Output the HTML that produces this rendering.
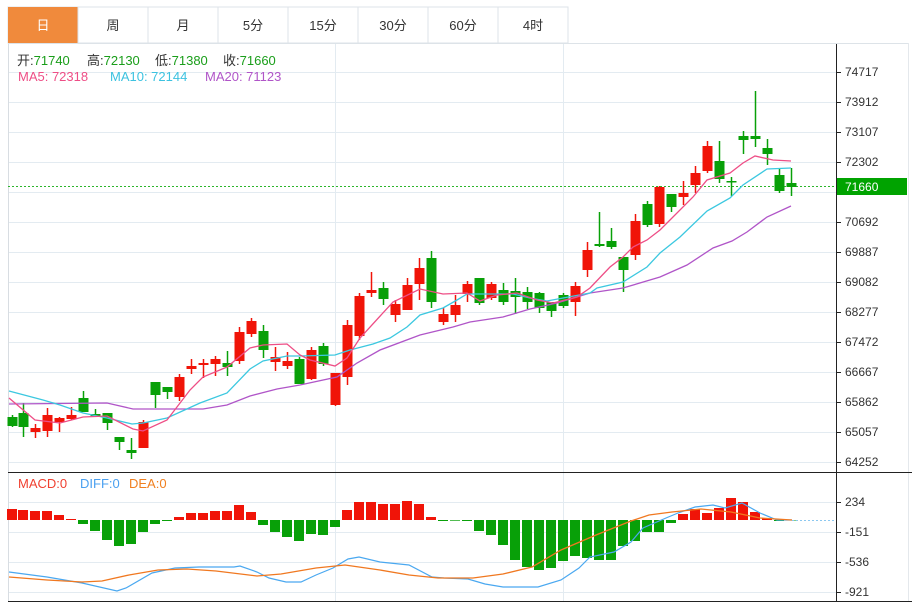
<!DOCTYPE html>
<html><head><meta charset="utf-8"><style>
html,body{margin:0;padding:0;background:#fff;width:912px;height:603px;overflow:hidden}
body{font-family:"Liberation Sans","Noto Sans CJK SC",sans-serif}
svg{position:absolute;left:0;top:0}
text{font-family:"Liberation Sans","Noto Sans CJK SC",sans-serif}
</style></head><body>
<svg id="s" width="912" height="603" xmlns="http://www.w3.org/2000/svg">
<rect x="0" y="0" width="912" height="603" fill="#fff"/>
<rect x="8" y="7" width="560" height="36" fill="#fff" stroke="#dde3e8"/>
<rect x="8" y="7" width="70" height="36" fill="#f08a3c"/>
<g stroke="#dde3e8"><line x1="148" y1="7" x2="148" y2="43"/><line x1="218" y1="7" x2="218" y2="43"/><line x1="288" y1="7" x2="288" y2="43"/><line x1="358" y1="7" x2="358" y2="43"/><line x1="428" y1="7" x2="428" y2="43"/><line x1="498" y1="7" x2="498" y2="43"/><line x1="78" y1="7" x2="78" y2="43"/></g>
<g font-size="13" text-anchor="middle" fill="#333">
<text x="43" y="30" fill="#fff">日</text><text x="113" y="30">周</text><text x="183" y="30">月</text><text x="253" y="30">5分</text><text x="323" y="30">15分</text><text x="393" y="30">30分</text><text x="463" y="30">60分</text><text x="533" y="30">4时</text>
</g>
<line x1="8.5" y1="43" x2="8.5" y2="602" stroke="#d8dde2"/>
<line x1="908.5" y1="43" x2="908.5" y2="602" stroke="#e4e8ec"/>
<line x1="8" y1="43.5" x2="908" y2="43.5" stroke="#dde3e8"/>
<g id="grid" stroke="#e3ebf1" stroke-width="1"></g>
<line x1="335.5" y1="44" x2="335.5" y2="602" stroke="#e3ebf1"/>
<line x1="563.5" y1="44" x2="563.5" y2="602" stroke="#e3ebf1"/>
<line x1="8" y1="472.5" x2="912" y2="472.5" stroke="#222"/>
<line x1="8" y1="601.5" x2="912" y2="601.5" stroke="#222"/>
<line x1="836.5" y1="44" x2="836.5" y2="602" stroke="#222"/>
<g id="ticks" stroke="#222"></g>
<g font-size="12" fill="#333">
<text x="845" y="76">74717</text><text x="845" y="106">73912</text><text x="845" y="136">73107</text><text x="845" y="166">72302</text><text x="845" y="226">70692</text><text x="845" y="256">69887</text><text x="845" y="286">69082</text><text x="845" y="316">68277</text><text x="845" y="346">67472</text><text x="845" y="376">66667</text><text x="845" y="406">65862</text><text x="845" y="436">65057</text><text x="845" y="466">64252</text>
<text x="845" y="506">234</text><text x="845" y="536">-151</text><text x="845" y="566">-536</text><text x="845" y="596">-921</text>
</g>
<line x1="8" y1="186.5" x2="836" y2="186.5" stroke="#2cb52c" stroke-dasharray="2,2"/>
<rect x="837" y="178" width="70" height="17" fill="#00a300"/>
<text x="845" y="191" font-size="12" fill="#fff">71660</text>
<g font-size="13">
<text x="17" y="65" fill="#333">开:<tspan fill="#1a9e1a">71740</tspan></text>
<text x="87" y="65" fill="#333">高:<tspan fill="#1a9e1a">72130</tspan></text>
<text x="155" y="65" fill="#333">低:<tspan fill="#1a9e1a">71380</tspan></text>
<text x="223" y="65" fill="#333">收:<tspan fill="#1a9e1a">71660</tspan></text>
<text x="18" y="81" fill="#ee4e86">MA5: 72318</text>
<text x="110" y="81" fill="#3cc2e0">MA10: 72144</text>
<text x="205" y="81" fill="#b055c8">MA20: 71123</text>
<text x="18" y="488" fill="#f04030">MACD:0</text>
<text x="80" y="488" fill="#4aa0f0">DIFF:0</text>
<text x="129" y="488" fill="#f08020">DEA:0</text>
</g>
<g id="c"></g>
<polyline fill="none" stroke="#b055c8" stroke-width="1.3" points="9,404 107,403 133,409 173,409 203,409 227,405 250,396 277,389 300,385 337,377 357,363 380,350 420,335 453,327 470,322 503,317 530,309 557,303 590,293 623,288 660,277 687,265 713,248 732,241 747,232 767,217 791,206"/>
<polyline fill="none" stroke="#3cc8e0" stroke-width="1.3" points="9,391 43,400 60,405 83,413 107,418 132,424 143,423 167,418 200,403 227,393 250,369 263,361 287,356 300,356 335,355 350,350 373,344 390,338 407,327 420,315 443,308 457,300 467,294 490,294 513,294 530,298 547,301 590,293 597,288 623,282 647,267 660,253 680,237 707,211 730,198 743,185 767,169 791,168"/>
<polyline fill="none" stroke="#ee4e86" stroke-width="1.3" points="9,398 35,420 60,423 83,417 107,416 133,429 143,431 167,420 190,390 203,377 227,367 250,348 263,345 287,344 300,355 310,360 335,366 347,358 360,338 393,302 420,289 443,294 467,293 480,301 497,295 517,293 537,300 553,303 577,297 590,288 610,267 623,257 633,247 647,240 660,230 670,220 693,197 707,180 730,173 743,163 755,156 773,160 791,161"/>
<g id="m"></g>
<line x1="792" y1="520.5" x2="836" y2="520.5" stroke="#8cc8f0" stroke-dasharray="2,2"/>
<polyline fill="none" stroke="#4aa8f0" stroke-width="1.2" points="9,572 47,577 82,583 117,591 126,588 152,573 175,568 199,567 234,567 240,566 257,572 269,578 286,582 301,582 316,575 333,568 348,559 359,557 380,562 409,565 432,577 444,578 468,579 485,584 503,587 538,587 561,580 579,568 590,557 614,552 631,542 643,528 666,518 678,513 695,507 713,505 725,508 742,503 760,513 777,520 792,520"/>
<polyline fill="none" stroke="#f07820" stroke-width="1.3" points="9,577 47,580 82,582 102,581 129,575 158,570 187,569 216,571 257,576 281,574 316,568 345,565 380,570 409,575 438,578 473,578 503,574 532,567 561,550 596,535 631,521 649,515 672,512 701,509 731,512 760,518 792,520"/>
</svg>
<script>
var NS="http://www.w3.org/2000/svg";
function el(p,t,a){var e=document.createElementNS(NS,t);for(var k in a)e.setAttribute(k,a[k]);p.appendChild(e);return e;}
var g=document.getElementById('grid'),tk=document.getElementById('ticks');
for(var y=72;y<=462;y+=30){el(g,'line',{x1:9,y1:y+.5,x2:836,y2:y+.5});if(y!=192)el(tk,'line',{x1:837,y1:y+.5,x2:841,y2:y+.5});}
[502,532,562,592].forEach(function(y){el(g,'line',{x1:9,y1:y+.5,x2:836,y2:y+.5});el(tk,'line',{x1:837,y1:y+.5,x2:841,y2:y+.5});});
var R="#f01408",G="#08a008";
var C=[[12,417,426,415,427,G],[23,413,427,403,437,G],[35,428,432,424,438,R],[47,415,431,408,437,R],[59,418,422,417,432,R],[71,415,419,407,420,R],[83,398,412,391,412,G],[95,414,416,409,417,G],[107,413,423,413,430,G],[119,437,442,437,450,G],[131,450,453,438,459,G],[143,422,448,420,448,R],[155,382,395,382,408,G],[167,387,392,387,399,G],[179,377,397,374,401,R],[191,366,369,359,374,R],[203,363,365,359,378,R],[215,359,364,356,376,R],[227,363,367,351,376,G],[239,332,361,327,364,R],[251,321,334,318,337,R],[263,331,350,325,358,G],[275,357,362,347,371,R],[287,361,366,352,369,R],
[299,359,384,357,384,G],[311,350,379,347,380,R],[323,346,364,343,366,G],[335,373,405,373,406,R],[347,325,377,320,385,R],[359,296,336,293,340,R],[371,290,293,272,297,R],[383,288,299,282,305,G],[395,304,315,300,322,R],[407,285,310,278,308,R],[419,268,284,258,300,R],[431,258,302,251,308,G],[443,314,322,308,325,R],[455,305,315,295,322,R],[467,284,294,281,302,R],[479,278,303,278,305,G],[491,284,298,282,300,R],[503,290,302,283,305,G],[515,291,297,278,314,G],[527,292,302,287,309,G],[539,293,308,292,313,G],[551,302,311,302,317,G],[563,295,306,293,308,G],[575,286,302,282,316,R],[587,250,270,242,277,R],
[599,244,246,212,247,G],[611,241,247,228,249,G],[623,257,270,257,292,G],[635,221,255,214,260,R],[647,204,225,201,227,G],[659,187,224,186,227,R],[671,194,207,194,212,G],[683,193,197,181,205,R],[695,173,185,166,193,R],[707,146,171,141,173,R],[719,161,179,141,183,G],[731,181,182,177,196,G],[743,136,140,131,154,G],[755,136,139,91,147,G],[767,148,154,139,165,G],[779,175,191,168,193,G],[791,183,187,168,196,G]];
var c=document.getElementById('c');
C.forEach(function(d){el(c,'line',{x1:d[0]+.5,y1:d[3],x2:d[0]+.5,y2:d[4],stroke:d[5],'stroke-width':1.5});var h=Math.max(d[2]-d[1],1.5);el(c,'rect',{x:d[0]-4.5,y:d[1],width:10,height:h,fill:d[5]});});
var M=[11,10,9,9,5,1,-4,-11,-20,-26,-24,-12,-4,-1,3,7,7,9,9,15,8,-5,-12,-17,-21,-14,-15,-7,10,18,18,16,16,19,16,3,-1,-.7,-1,-11,-15,-25,-40,-47,-50,-48,-41,-36,-38,-40,-40,-26,-21,-12,-12,-3,6,11,7,12,22,18,8,2,-1,-.5];
var m=document.getElementById('m');
M.forEach(function(v,i){var x=C[i][0];if(v>0)el(m,'rect',{x:x-5,y:520-v,width:10,height:v,fill:R});else el(m,'rect',{x:x-5,y:520,width:10,height:-v,fill:G});});
</script>
</body></html>
